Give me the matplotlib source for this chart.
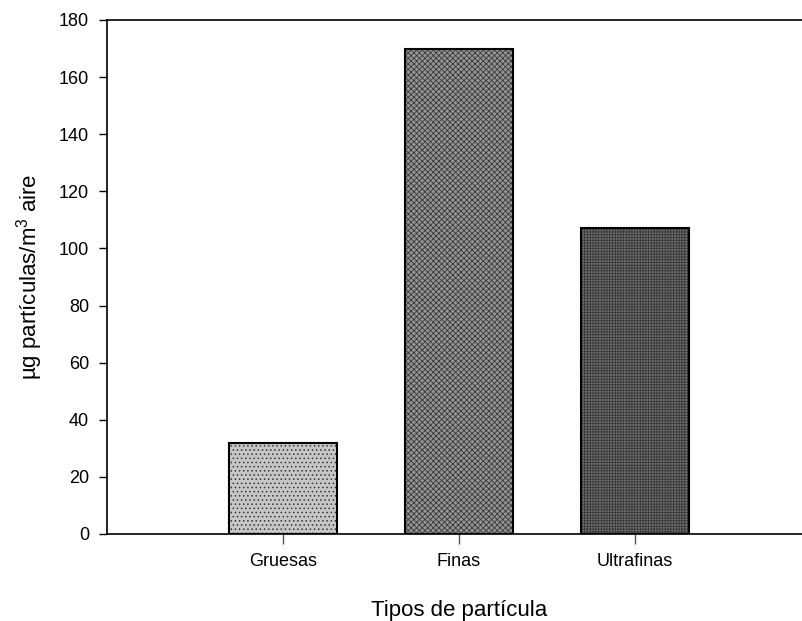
import matplotlib
matplotlib.use("Agg")
import matplotlib.pyplot as plt

# particle mass concentration by size class
categories = ["Gruesas", "Finas", "Ultrafinas"]
values = [32, 170, 107]
positions = [1, 2, 3]

face_colors = ["#c6c6c6", "#959595", "#6e6e6e"]
hatches = ["....", "xxxxxx", "++++++"]

plt.rcParams["font.family"] = ["Liberation Sans", "DejaVu Sans"]
plt.rcParams["hatch.linewidth"] = 0.6

fig = plt.figure(figsize=(8.02, 6.21), dpi=100)
ax = fig.add_axes([107 / 802, 1 - 534 / 621, 704 / 802, 514 / 621])

bars = ax.bar(positions, values, width=0.608, color=face_colors,
              edgecolor="black", linewidth=1.5, zorder=2)
for bar, h in zip(bars, hatches):
    bar.set_hatch(h)
    bar._hatch_color = matplotlib.colors.to_rgba("#383838")

ax.set_xlim(0, 4)
ax.set_ylim(0, 180)
ax.set_yticks(range(0, 181, 20))
ax.set_xticks(positions)
ax.set_xticklabels(categories)

ax.spines["right"].set_visible(False)
for s in ["left", "bottom", "top"]:
    ax.spines[s].set_linewidth(1.2)

ax.tick_params(axis="y", direction="out", length=6, width=1, labelsize=13, pad=7)
ax.tick_params(axis="x", direction="out", length=7, width=1, labelsize=13, pad=7)
ax.tick_params(axis="x", colors="#555555", labelcolor="black")

ax.set_xlabel("Tipos de partícula", fontsize=16, labelpad=21)
ax.set_ylabel(r"µg partículas/m$^{\mathregular{3}}$ aire", fontsize=16, labelpad=10)

fig.savefig("out.png", dpi=100)
